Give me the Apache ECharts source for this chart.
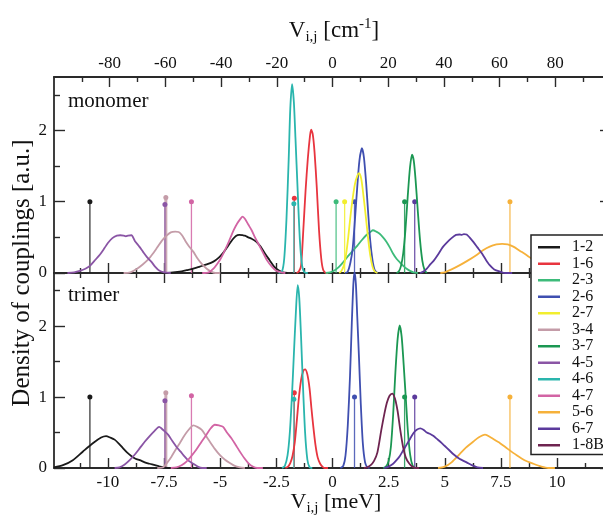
<!DOCTYPE html>
<html>
<head>
<meta charset="utf-8">
<script src="https://cdn.jsdelivr.net/npm/echarts@6/dist/echarts.min.js"></script>
<style>
  html, body { margin: 0; padding: 0; background: #fff; }
  #chart { width: 603px; height: 518px; }
</style>
</head>
<body>
<div id="chart"></div>
<script>
// ---- coupling pairs (legend order) ----
const pairNames = ['1-2', '1-6', '2-3', '2-6', '2-7', '3-4', '3-7', '4-5', '4-6', '4-7', '5-6', '6-7', '1-8B'];

// ---- tick values ----
const mevTicks = [-10, -7.5, -5, -2.5, 0, 2.5, 5, 7.5, 10];
const mevMinorTicks = [-11.25, -8.75, -6.25, -3.75, -1.25, 1.25, 3.75, 6.25, 8.75, 11.25];
const cmTicks = [-80, -60, -40, -20, 0, 20, 40, 60, 80];
const cmMinorTicks = [-90, -70, -50, -30, -10, 10, 30, 50, 70, 90];
const densityTicks = [0, 1, 2];
const densityMinorTicks = [0.5, 1.5, 2.5];

// ---- monomer coupling distributions [V (meV), density] ----
const monomer_1_2 = [[-7.6,0],[-7.2,0.005],[-6.8,0.02],[-6.5,0.04],[-6.2,0.06],[-5.9,0.09],[-5.6,0.12],[-5.3,0.16],[-5.05,0.22],[-4.85,0.29],[-4.65,0.38],[-4.45,0.47],[-4.3,0.52],[-4.15,0.535],[-4.0,0.53],[-3.9,0.525],[-3.75,0.5],[-3.6,0.48],[-3.4,0.44],[-3.2,0.37],[-3.0,0.27],[-2.8,0.18],[-2.6,0.09],[-2.4,0.04],[-2.2,0.01],[-2.0,0]];
const monomer_1_6 = [[-1.6,0],[-1.5,0.02],[-1.4,0.1],[-1.3,0.6],[-1.2,1.15],[-1.1,1.6],[-1.0,1.93],[-0.95,2.01],[-0.88,1.95],[-0.8,1.7],[-0.7,1.2],[-0.6,0.6],[-0.5,0.2],[-0.42,0.05],[-0.3,0],[-0.2,0]];
const monomer_2_3 = [[-0.3,0],[-0.1,0.01],[0.1,0.04],[0.3,0.09],[0.5,0.16],[0.7,0.24],[0.9,0.31],[1.1,0.38],[1.3,0.46],[1.5,0.53],[1.7,0.58],[1.8,0.6],[1.95,0.58],[2.1,0.55],[2.25,0.5],[2.4,0.44],[2.55,0.36],[2.7,0.27],[2.85,0.2],[3.0,0.15],[3.15,0.1],[3.3,0.06],[3.45,0.03],[3.6,0.01],[3.8,0]];
const monomer_2_6 = [[0.55,0],[0.68,0.02],[0.8,0.15],[0.9,0.35],[1.0,0.75],[1.1,1.2],[1.2,1.58],[1.31,1.75],[1.4,1.62],[1.5,1.25],[1.58,0.88],[1.68,0.45],[1.78,0.18],[1.88,0.04],[2.0,0]];
const monomer_2_7 = [[0.3,0],[0.4,0.03],[0.5,0.1],[0.6,0.25],[0.7,0.5],[0.8,0.8],[0.9,1.05],[1.0,1.25],[1.1,1.36],[1.18,1.4],[1.28,1.32],[1.38,1.08],[1.48,0.8],[1.58,0.5],[1.68,0.25],[1.78,0.09],[1.88,0.02],[2.0,0]];
const monomer_3_4 = [[-9.3,0],[-9.0,0.01],[-8.7,0.06],[-8.45,0.12],[-8.2,0.19],[-8.0,0.27],[-7.8,0.36],[-7.6,0.45],[-7.4,0.52],[-7.2,0.57],[-7.0,0.58],[-6.85,0.575],[-6.7,0.53],[-6.55,0.45],[-6.4,0.38],[-6.2,0.3],[-6.0,0.2],[-5.8,0.12],[-5.6,0.06],[-5.4,0.02],[-5.2,0],[-5.0,0]];
const monomer_3_7 = [[2.85,0],[2.95,0.02],[3.05,0.1],[3.15,0.28],[3.25,0.62],[3.35,1.08],[3.45,1.48],[3.54,1.66],[3.62,1.57],[3.7,1.3],[3.8,0.86],[3.9,0.45],[4.0,0.17],[4.1,0.04],[4.2,0]];
const monomer_4_5 = [[-11.8,0],[-11.5,0.01],[-11.25,0.03],[-11.0,0.06],[-10.8,0.1],[-10.6,0.17],[-10.35,0.26],[-10.15,0.35],[-10.0,0.42],[-9.8,0.49],[-9.6,0.525],[-9.45,0.53],[-9.3,0.525],[-9.2,0.515],[-9.1,0.525],[-8.95,0.53],[-8.8,0.45],[-8.6,0.37],[-8.44,0.3],[-8.25,0.22],[-8.07,0.16],[-7.9,0.09],[-7.7,0.03],[-7.5,0.01],[-7.2,0]];
const monomer_4_6 = [[-2.4,0],[-2.25,0.02],[-2.15,0.2],[-2.05,0.75],[-1.95,1.6],[-1.88,2.3],[-1.8,2.65],[-1.72,2.4],[-1.65,1.9],[-1.55,1.15],[-1.45,0.45],[-1.35,0.1],[-1.25,0.01],[-1.1,0]];
const monomer_4_7 = [[-5.8,0],[-5.5,0.01],[-5.3,0.06],[-5.15,0.12],[-5.0,0.19],[-4.85,0.28],[-4.7,0.38],[-4.55,0.49],[-4.4,0.6],[-4.25,0.69],[-4.1,0.76],[-4.0,0.79],[-3.9,0.76],[-3.75,0.68],[-3.6,0.6],[-3.45,0.5],[-3.3,0.41],[-3.1,0.29],[-2.9,0.17],[-2.7,0.09],[-2.5,0.03],[-2.3,0.01],[-2.1,0]];
const monomer_5_6 = [[4.8,0],[5.0,0.01],[5.3,0.05],[5.67,0.11],[6.0,0.17],[6.4,0.25],[6.7,0.32],[7.0,0.37],[7.3,0.4],[7.55,0.41],[7.8,0.4],[8.05,0.37],[8.35,0.31],[8.65,0.25],[8.95,0.18],[9.3,0.11],[9.7,0.05],[10.1,0.02],[10.5,0],[11,0]];
const monomer_6_7 = [[3.9,0],[4.05,0.02],[4.2,0.06],[4.35,0.12],[4.5,0.17],[4.7,0.26],[4.9,0.36],[5.1,0.43],[5.3,0.49],[5.5,0.535],[5.65,0.54],[5.75,0.535],[5.85,0.545],[5.97,0.54],[6.1,0.5],[6.26,0.44],[6.45,0.36],[6.64,0.28],[6.82,0.19],[7.0,0.11],[7.2,0.05],[7.45,0.02],[7.7,0],[8.0,0]];

// ---- trimer coupling distributions [V (meV), density] ----
const trimer_1_2 = [[-12.4,0.01],[-12.0,0.04],[-11.56,0.11],[-11.12,0.23],[-10.67,0.35],[-10.3,0.43],[-10.08,0.45],[-9.9,0.43],[-9.7,0.4],[-9.5,0.34],[-9.33,0.28],[-9.15,0.22],[-8.96,0.17],[-8.77,0.13],[-8.58,0.11],[-8.36,0.08],[-8.14,0.06],[-7.9,0.04],[-7.69,0.02],[-7.3,0],[-7.0,0]];
const trimer_1_6 = [[-2.1,0],[-1.98,0.02],[-1.88,0.07],[-1.78,0.17],[-1.68,0.36],[-1.59,0.66],[-1.5,0.98],[-1.4,1.24],[-1.3,1.37],[-1.22,1.39],[-1.12,1.32],[-1.02,1.12],[-0.94,0.85],[-0.86,0.6],[-0.76,0.33],[-0.66,0.15],[-0.55,0.06],[-0.45,0.02],[-0.35,0],[-0.2,0]];
const trimer_2_6 = [[0.35,0],[0.48,0.03],[0.58,0.18],[0.68,0.6],[0.78,1.3],[0.86,2.05],[0.93,2.6],[0.98,2.76],[1.04,2.6],[1.1,2.15],[1.18,1.55],[1.26,0.9],[1.35,0.35],[1.45,0.08],[1.55,0.01],[1.65,0]];
const trimer_3_4 = [[-7.8,0],[-7.54,0.01],[-7.35,0.08],[-7.17,0.16],[-7.0,0.25],[-6.8,0.35],[-6.65,0.43],[-6.5,0.5],[-6.35,0.56],[-6.2,0.6],[-6.02,0.58],[-5.83,0.54],[-5.65,0.46],[-5.46,0.37],[-5.24,0.27],[-5.01,0.18],[-4.8,0.12],[-4.57,0.07],[-4.35,0.03],[-4.12,0.01],[-3.9,0]];
const trimer_3_7 = [[2.25,0],[2.38,0.02],[2.5,0.1],[2.6,0.3],[2.7,0.75],[2.8,1.35],[2.9,1.82],[2.99,2.01],[3.08,1.85],[3.17,1.45],[3.26,1.0],[3.36,0.5],[3.46,0.18],[3.56,0.04],[3.68,0],[3.8,0]];
const trimer_4_5 = [[-9.7,0],[-9.48,0.01],[-9.25,0.05],[-9.03,0.11],[-8.8,0.19],[-8.58,0.28],[-8.36,0.37],[-8.14,0.45],[-7.93,0.52],[-7.72,0.58],[-7.52,0.53],[-7.32,0.47],[-7.13,0.38],[-6.95,0.3],[-6.76,0.23],[-6.58,0.16],[-6.4,0.1],[-6.2,0.06],[-6.0,0.02],[-5.8,0],[-5.6,0]];
const trimer_4_6 = [[-2.25,0],[-2.12,0.03],[-2.0,0.18],[-1.9,0.5],[-1.8,1.05],[-1.72,1.6],[-1.63,2.2],[-1.55,2.58],[-1.48,2.4],[-1.4,1.85],[-1.32,1.2],[-1.22,0.5],[-1.12,0.12],[-1.02,0.01],[-0.9,0]];
const trimer_4_7 = [[-7.2,0],[-6.95,0.01],[-6.72,0.04],[-6.5,0.09],[-6.28,0.17],[-6.06,0.26],[-5.83,0.37],[-5.61,0.47],[-5.42,0.56],[-5.24,0.61],[-5.05,0.6],[-4.87,0.58],[-4.7,0.5],[-4.5,0.42],[-4.3,0.32],[-4.12,0.23],[-3.93,0.14],[-3.75,0.07],[-3.55,0.02],[-3.35,0],[-3.1,0]];
const trimer_5_6 = [[4.7,0],[5.0,0.02],[5.3,0.08],[5.67,0.2],[5.95,0.29],[6.26,0.37],[6.5,0.43],[6.79,0.47],[7.05,0.43],[7.3,0.38],[7.46,0.35],[7.8,0.27],[8.2,0.18],[8.55,0.11],[8.94,0.06],[9.3,0.02],[9.6,0],[9.9,0]];
const trimer_6_7 = [[2.3,0],[2.5,0.02],[2.7,0.06],[2.85,0.11],[3.0,0.17],[3.15,0.25],[3.3,0.33],[3.45,0.41],[3.6,0.49],[3.75,0.54],[3.91,0.56],[4.05,0.54],[4.2,0.5],[4.35,0.48],[4.5,0.45],[4.65,0.41],[4.8,0.37],[5.0,0.31],[5.2,0.25],[5.4,0.19],[5.65,0.13],[5.97,0.08],[6.2,0.04],[6.45,0.01],[6.7,0]];
const trimer_1_8B = [[1.4,0],[1.55,0.01],[1.7,0.04],[1.85,0.1],[2.0,0.22],[2.17,0.53],[2.3,0.75],[2.42,0.92],[2.54,1.02],[2.66,1.05],[2.78,0.98],[2.9,0.8],[3.02,0.53],[3.14,0.3],[3.26,0.15],[3.4,0.07],[3.55,0.02],[3.7,0],[3.85,0]];

// ---- static reference couplings (stick markers) ----
const monomerStickPairs   = ['1-2', '3-4', '4-5', '4-7', '1-6', '4-6', '2-3', '2-7', '2-6', '3-7', '6-7', '5-6'];
const monomerStickValues  = [-10.8, -7.42, -7.46, -6.28, -1.70, -1.72, 0.16, 0.54, 0.98, 3.21, 3.66, 7.9];
const monomerStickHeights = [1.0, 1.06, 0.96, 1.0, 1.05, 0.97, 1.0, 1.0, 1.0, 1.0, 1.0, 1.0];
const trimerStickPairs    = ['1-2', '3-4', '4-5', '4-7', '1-6', '4-6', '2-6', '3-7', '6-7', '5-6'];
const trimerStickValues   = [-10.8, -7.42, -7.46, -6.28, -1.70, -1.72, 0.98, 3.21, 3.66, 7.9];
const trimerStickHeights  = [1.0, 1.06, 0.95, 1.02, 1.06, 0.97, 1.0, 1.0, 1.0, 1.0];

// ---- drawing styles ----
const palette = {
  '1-2': '#1a1a1a', '1-6': '#e8353f', '2-3': '#3dbb7a', '2-6': '#3f4fb0',
  '2-7': '#f2ee2e', '3-4': '#c49ca8', '3-7': '#1b9752', '4-5': '#8a55a5',
  '4-6': '#2ab5ad', '4-7': '#d264a4', '5-6': '#f6b13a', '6-7': '#5b3a9c',
  '1-8B': '#6e2450'
};
const SERIF = '"Liberation Serif", "Times New Roman", serif';
const AXIS_COLOR = '#2a2a2a';
const MEV_PER_CM = 1 / 8.0655;
const CM_RANGE = 100;
const MEV_RANGE = CM_RANGE * MEV_PER_CM;

const monomerCurves = {
  '1-2': monomer_1_2, '1-6': monomer_1_6, '2-3': monomer_2_3, '2-6': monomer_2_6,
  '2-7': monomer_2_7, '3-4': monomer_3_4, '3-7': monomer_3_7, '4-5': monomer_4_5,
  '4-6': monomer_4_6, '4-7': monomer_4_7, '5-6': monomer_5_6, '6-7': monomer_6_7
};
const trimerCurves = {
  '1-2': trimer_1_2, '1-6': trimer_1_6, '2-6': trimer_2_6, '3-4': trimer_3_4,
  '3-7': trimer_3_7, '4-5': trimer_4_5, '4-6': trimer_4_6, '4-7': trimer_4_7,
  '5-6': trimer_5_6, '6-7': trimer_6_7, '1-8B': trimer_1_8B
};

// ---- axis helpers ----
function xAxisDef(gridIndex, position, unit, ticks, tickLen, withLine, labels, margin) {
  const lim = unit === 'cm' ? CM_RANGE : MEV_RANGE;
  return {
    type: 'value', gridIndex: gridIndex, position: position,
    min: -lim, max: lim,
    splitLine: { show: false },
    axisLine: { show: withLine, onZero: false, lineStyle: { color: AXIS_COLOR, width: 1.8 } },
    axisTick: { show: true, inside: true, length: tickLen, customValues: ticks,
                lineStyle: { color: AXIS_COLOR, width: 1.4 } },
    axisLabel: labels ? { show: true, customValues: labels, fontFamily: SERIF, fontSize: 17,
                          color: '#111', margin: margin } : { show: false }
  };
}
function yAxisDef(gridIndex, position, ticks, tickLen, withLine, labels) {
  return {
    type: 'value', gridIndex: gridIndex, position: position,
    min: 0, max: 2.75,
    splitLine: { show: false },
    axisLine: { show: withLine, onZero: false, lineStyle: { color: AXIS_COLOR, width: 1.8 } },
    axisTick: { show: true, inside: true, length: tickLen, customValues: ticks,
                lineStyle: { color: AXIS_COLOR, width: 1.4 } },
    axisLabel: labels ? { show: true, customValues: labels, fontFamily: SERIF, fontSize: 17,
                          color: '#111', margin: 7 } : { show: false }
  };
}

const xAxes = [
  xAxisDef(0, 'bottom', 'mev', mevTicks, 10, true, null),          // 0 monomer data axis
  xAxisDef(0, 'bottom', 'mev', mevMinorTicks, 5, false, null),     // 1
  xAxisDef(0, 'top', 'cm', cmTicks, 10, true, cmTicks, 5),         // 2 cm^-1 scale
  xAxisDef(0, 'top', 'cm', cmMinorTicks, 5, false, null),          // 3
  xAxisDef(1, 'bottom', 'mev', mevTicks, 10, true, mevTicks, 6),   // 4 trimer data axis
  xAxisDef(1, 'bottom', 'mev', mevMinorTicks, 5, false, null),     // 5
  xAxisDef(1, 'top', 'mev', mevTicks, 10, true, null),             // 6
  xAxisDef(1, 'top', 'mev', mevMinorTicks, 5, false, null)         // 7
];
const yAxes = [
  yAxisDef(0, 'left', densityTicks, 11, true, densityTicks),       // 0 monomer data axis
  yAxisDef(0, 'left', densityMinorTicks, 6, false, null),          // 1
  yAxisDef(0, 'right', densityTicks, 11, true, null),              // 2
  yAxisDef(0, 'right', densityMinorTicks, 6, false, null),         // 3
  yAxisDef(1, 'left', densityTicks, 11, true, densityTicks),       // 4 trimer data axis
  yAxisDef(1, 'left', densityMinorTicks, 6, false, null),          // 5
  yAxisDef(1, 'right', densityTicks, 11, true, null),              // 6
  yAxisDef(1, 'right', densityMinorTicks, 6, false, null)          // 7
];

// ---- series ----
const series = [];
function addCurves(curves, axisIndex) {
  pairNames.forEach(function (name) {
    if (!curves[name]) return;
    series.push({
      type: 'line', name: name, xAxisIndex: axisIndex, yAxisIndex: axisIndex,
      data: curves[name], symbol: 'none', showSymbol: false, smooth: 0.25,
      lineStyle: { color: palette[name], width: 1.8 },
      itemStyle: { color: palette[name] },
      animation: false, silent: true, z: 3
    });
  });
}
function addSticks(pairs, values, heights, axisIndex) {
  pairs.forEach(function (name, i) {
    const wide = name === '3-4';
    series.push({
      type: 'line', name: name, xAxisIndex: axisIndex, yAxisIndex: axisIndex,
      data: [
        { value: [values[i], 0], symbol: 'none' },
        { value: [values[i], heights[i]], symbol: 'circle', symbolSize: 5 }
      ],
      showSymbol: true,
      lineStyle: { color: palette[name], width: wide ? 3 : 1.3, opacity: 0.85 },
      itemStyle: { color: palette[name] },
      animation: false, silent: true, z: 2
    });
  });
}
addSticks(monomerStickPairs, monomerStickValues, monomerStickHeights, 0);
addCurves(monomerCurves, 0);
addSticks(trimerStickPairs, trimerStickValues, trimerStickHeights, 4);
addCurves(trimerCurves, 4);

const chart = echarts.init(document.getElementById('chart'), null, { renderer: 'canvas' });
chart.setOption({
  backgroundColor: '#fff',
  animation: false,
  grid: [
    { left: 54, top: 77, width: 557, height: 196, containLabel: false, outerBoundsMode: 'none' },
    { left: 54, top: 273, width: 557, height: 195, containLabel: false, outerBoundsMode: 'none' }
  ],
  xAxis: xAxes,
  yAxis: yAxes,
  legend: {
    data: pairNames, orient: 'vertical', left: 531, top: 235,
    icon: 'rect', itemWidth: 22, itemHeight: 2.5, itemGap: 0,
    padding: [4, 40, 1, 7],
    borderColor: '#222', borderWidth: 1.5, backgroundColor: '#fff',
    selectedMode: false, z: 10,
    textStyle: { fontFamily: SERIF, fontSize: 16, color: '#111', lineHeight: 16.5, padding: [0, 0, 0, 7] }
  },
  graphic: [
    {
      type: 'text', x: 334, y: 31, z: 20,
      style: {
        text: '{v|V}{s|i,j}{v| [cm}{p|-1}{v|]}',
        align: 'center', verticalAlign: 'middle', textAlign: 'center', textVerticalAlign: 'middle',
        rich: {
          v: { fontFamily: SERIF, fontSize: 23, lineHeight: 28, fill: '#111' },
          s: { fontFamily: SERIF, fontSize: 15, lineHeight: 10, verticalAlign: 'bottom', fill: '#111' },
          p: { fontFamily: SERIF, fontSize: 15, lineHeight: 17, verticalAlign: 'top', fill: '#111' }
        }
      }
    },
    {
      type: 'text', x: 336, y: 502, z: 20,
      style: {
        text: '{v|V}{s|i,j}{v| [meV]}',
        align: 'center', verticalAlign: 'middle', textAlign: 'center', textVerticalAlign: 'middle',
        rich: {
          v: { fontFamily: SERIF, fontSize: 22, lineHeight: 27, fill: '#111' },
          s: { fontFamily: SERIF, fontSize: 15, lineHeight: 10, verticalAlign: 'bottom', fill: '#111' }
        }
      }
    },
    {
      type: 'text', x: 22, y: 273, rotation: Math.PI / 2, z: 20,
      style: {
        text: 'Density of couplings [a.u.]', fontFamily: SERIF, fontSize: 25, fill: '#111',
        align: 'center', verticalAlign: 'middle', textAlign: 'center', textVerticalAlign: 'middle'
      }
    },
    {
      type: 'text', x: 68, y: 101, z: 20,
      style: { text: 'monomer', fontFamily: SERIF, fontSize: 21, fill: '#111',
               align: 'left', verticalAlign: 'middle', textAlign: 'left', textVerticalAlign: 'middle' }
    },
    {
      type: 'text', x: 68, y: 295, z: 20,
      style: { text: 'trimer', fontFamily: SERIF, fontSize: 21, fill: '#111',
               align: 'left', verticalAlign: 'middle', textAlign: 'left', textVerticalAlign: 'middle' }
    }
  ],
  series: series
});
</script>
</body>
</html>
